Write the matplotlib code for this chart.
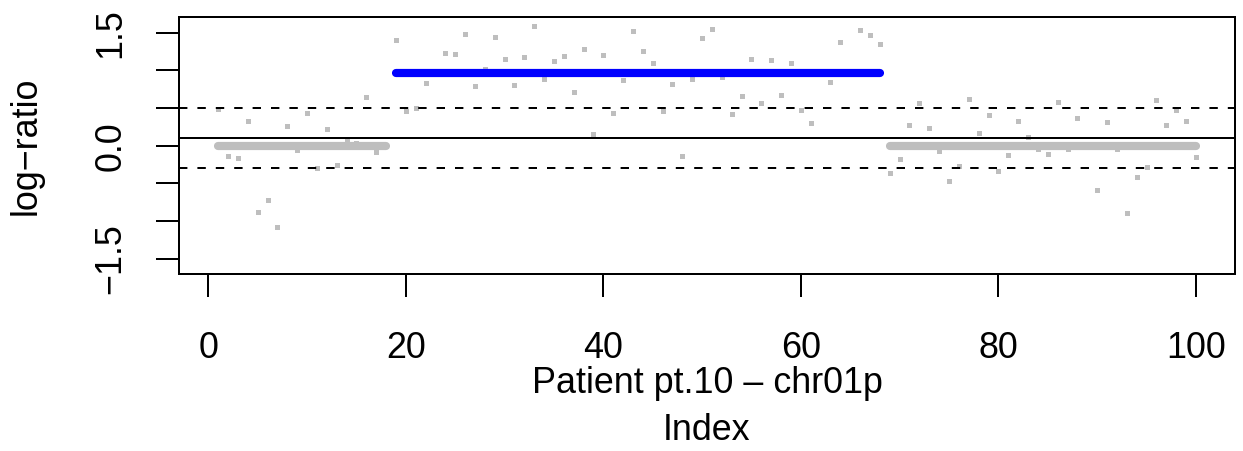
import matplotlib
matplotlib.use("Agg")
import matplotlib.pyplot as plt
import numpy as np

plt.rcParams["font.family"] = ["Liberation Sans", "DejaVu Sans"]

# probe log-ratios, index 1..100
log_ratio = [
    0.487, -0.141, -0.167, 0.328, -0.884, -0.725, -1.073, 0.258, -0.061, 0.430,
    -0.300, 0.218, -0.260, 0.058, 0.040, 0.643, -0.088, 0.000, 1.400, 0.457,
    0.497, 0.829, 0.970, 1.227, 1.214, 1.479, 0.789, 1.020, 1.440, 1.147,
    0.802, 1.174, 1.586, 0.882, 1.121, 1.187, 0.709, 1.280, 0.151, 1.201,
    0.430, 0.869, 1.519, 1.254, 1.094, 0.457, 0.815, -0.141, 0.890, 1.426,
    1.546, 0.916, 0.417, 0.656, 1.147, 0.563, 1.134, 0.669, 1.094, 0.470,
    0.297, 0.970, 0.842, 1.373, 0.970, 1.533, 1.466, 1.347, -0.367, -0.181,
    0.271, 0.563, 0.231, -0.070, -0.473, -0.270, 0.616, 0.165, 0.404, -0.332,
    -0.127, 0.324, 0.116, -0.048, -0.114, 0.576, -0.048, 0.364, 0.000, -0.592,
    0.311, -0.048, -0.898, -0.420, -0.287, 0.603, 0.271, 0.470, 0.324, -0.154,
]
index = np.arange(1, len(log_ratio) + 1)

# segmentation result
seg_start = [1, 19, 69]
seg_end = [18, 68, 100]
seg_mean = [0.0, 0.969, 0.0]
seg_call = ["normal", "gain", "normal"]

baseline = 0.1
threshold = 0.4

x_ticks = [0, 20, 40, 60, 80, 100]
y_ticks = [-1.5, -1.0, -0.5, 0.0, 0.5, 1.0, 1.5]
y_ticklabels = ["\u22121.5", "", "", "0.0", "", "", "1.5"]

W, H = 1243, 451
FS = 25.8
fig = plt.figure(figsize=(W / 100, H / 100), dpi=100)
ax = fig.add_axes([179.1 / W, 1 - 274.3 / H, (1235 - 179.1) / W, (274.3 - 17.3) / H])

ax.plot(index, log_ratio, "s", color="#BEBEBE", markersize=3.6, markeredgewidth=0, zorder=2)

call_colors = {"normal": "#BEBEBE", "gain": "#0000FF"}
for s, e, m, c in zip(seg_start, seg_end, seg_mean, seg_call):
    ax.plot([s, e], [m, m], color=call_colors[c], linewidth=5.9,
            solid_capstyle="round", zorder=3)

ax.axhline(baseline, color="black", linewidth=1.44, zorder=4)
for off in (threshold, -threshold):
    ax.axhline(baseline + off, color="black", linewidth=1.44,
               linestyle=(0, (4.2, 5.0)), zorder=4)

ax.set_xlim(-2.96, 103.96)
ax.set_ylim(-1.706, 1.706)
ax.set_xticks(x_ticks)
ax.set_xticklabels([str(t) for t in x_ticks], fontsize=FS)
ax.set_yticks(y_ticks)
ax.set_yticklabels(y_ticklabels, fontsize=FS, rotation=90, va="center")
ax.tick_params(axis="both", direction="out", length=16.6, width=1.44, color="black")
ax.tick_params(axis="x", pad=24)
ax.tick_params(axis="y", pad=20)
for sp in ax.spines.values():
    sp.set_linewidth(1.44)

fig.text(707 / W, 1 - 392.7 / H, "Patient pt.10 \u2013 chr01p", fontsize=FS,
         ha="center", va="baseline")
fig.text(707 / W, 1 - 440 / H, "Index", fontsize=FS, ha="center", va="baseline")
fig.text(26 / W, 1 - 145.8 / H, "log\u2212ratio", fontsize=FS, rotation=90,
         ha="center", va="center")

fig.savefig("out.png", dpi=100, facecolor="white")
